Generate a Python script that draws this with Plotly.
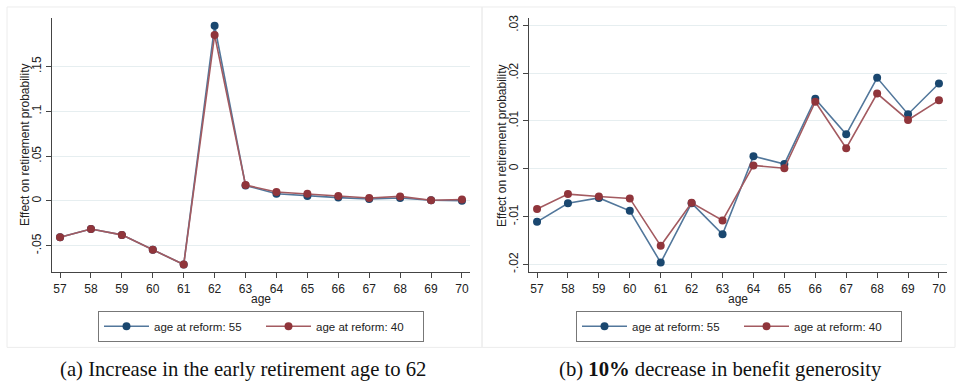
import plotly.graph_objects as go

ages = list(range(57, 71))

# Panel (a): increase in early retirement age to 62
a_reform55 = [-0.0405, -0.0313, -0.0379, -0.0544, -0.0710, 0.1954, 0.0172, 0.0080,
              0.0055, 0.0037, 0.0022, 0.0033, 0.0007, 0.0002]
a_reform40 = [-0.0405, -0.0313, -0.0379, -0.0544, -0.0710, 0.1850, 0.0177, 0.0099,
              0.0080, 0.0055, 0.0033, 0.0050, 0.0007, 0.0015]

# Panel (b): 10% decrease in benefit generosity
b_reform55 = [-0.0111, -0.0072, -0.0061, -0.0088, -0.0196, -0.0072, -0.0137, 0.0026,
              0.0010, 0.0146, 0.0072, 0.0190, 0.0114, 0.0178]
b_reform40 = [-0.0084, -0.0053, -0.0058, -0.0062, -0.0161, -0.0071, -0.0108, 0.0007,
              0.0001, 0.0140, 0.0043, 0.0157, 0.0102, 0.0143]

a_yticks = [-0.05, 0, 0.05, 0.1, 0.15]
a_yticktext = ["-.05", "0", ".05", ".1", ".15"]
b_yticks = [-0.02, -0.01, 0, 0.01, 0.02, 0.03]
b_yticktext = ["-.02", "-.01", "0", ".01", ".02", ".03"]

names = ["age at reform: 55", "age at reform: 40"]
marker_colors = ["#1a476f", "#90353b"]
line_colors = ["#52779b", "#a35a60"]

W, H = 956, 386
def px(x):
    return x / W
def py(y):
    return 1 - y / H

fig = go.Figure()

for i, (ys, nm) in enumerate(zip([a_reform55, a_reform40], names)):
    fig.add_trace(go.Scatter(x=ages, y=ys, name=nm, mode="lines+markers",
                             line=dict(color=line_colors[i], width=1.6),
                             marker=dict(color=marker_colors[i], size=8),
                             xaxis="x", yaxis="y", legend="legend"))
for i, (ys, nm) in enumerate(zip([b_reform55, b_reform40], names)):
    fig.add_trace(go.Scatter(x=ages, y=ys, name=nm, mode="lines+markers",
                             line=dict(color=line_colors[i], width=1.6),
                             marker=dict(color=marker_colors[i], size=8),
                             xaxis="x2", yaxis="y2", legend="legend2"))

font_sans = "Liberation Sans, Arial, sans-serif"
axis_common = dict(showline=True, linecolor="#444", linewidth=1, ticks="outside",
                   ticklen=5, tickcolor="#444", tickfont=dict(family=font_sans, size=12, color="#222"),
                   zeroline=False)

xr = [56.74, 70.26]
leg_common = dict(orientation="h", xanchor="left", yanchor="top",
                  bordercolor="#777", borderwidth=1, bgcolor="white",
                  font=dict(family=font_sans, size=11.5, color="#222"),
                  itemwidth=45, entrywidth=102, tracegroupgap=0)
fig.update_layout(
    width=W, height=H, margin=dict(l=0, r=0, t=0, b=0),
    paper_bgcolor="white", plot_bgcolor="white",
    font=dict(family=font_sans, size=12, color="#222"),
    xaxis=dict(domain=[px(52), px(470)], range=xr, tickvals=ages, showgrid=False,
               anchor="y", **axis_common),
    yaxis=dict(domain=[py(272), py(15)], range=[-0.0795, 0.2042], tickvals=a_yticks,
               ticktext=a_yticktext, tickangle=-90, showgrid=True, gridcolor="#e6eef0",
               anchor="x", **axis_common),
    xaxis2=dict(domain=[px(529), px(947)], range=xr, tickvals=ages, showgrid=False,
                anchor="y2", **axis_common),
    yaxis2=dict(domain=[py(272), py(15)], range=[-0.02161, 0.03153], tickvals=b_yticks,
                ticktext=b_yticktext, tickangle=-90, showgrid=True, gridcolor="#e6eef0",
                anchor="x2", **axis_common),
    legend=dict(x=px(98), y=py(311), **leg_common),
    legend2=dict(x=px(576), y=py(311), **leg_common),
)

# panel frames
for x0, x1 in [(7, 482), (482, 955)]:
    fig.add_shape(type="rect", xref="paper", yref="paper", x0=px(x0), x1=px(x1),
                  y0=py(348), y1=py(4), line=dict(color="#ececec", width=1), layer="below")

ann = dict(xref="paper", yref="paper", showarrow=False, xanchor="center", yanchor="middle")
# axis titles
for cx in [261, 738]:
    fig.add_annotation(text="age", x=px(cx), y=py(299),
                       font=dict(family=font_sans, size=12, color="#222"), **ann)
for cx in [25, 502]:
    fig.add_annotation(text="Effect on retirement probability",
                       x=px(cx), y=py(143.5), textangle=-90,
                       font=dict(family=font_sans, size=12, color="#222"), **ann)

# captions
serif = "Liberation Serif, Times New Roman, serif"
fig.add_annotation(text="(a) Increase in the early retirement age to 62",
                   x=px(243), y=py(370), font=dict(family=serif, size=20.7, color="#111"), **ann)
fig.add_annotation(text="(b) <b>10%</b> decrease in benefit generosity",
                   x=px(720), y=py(370), font=dict(family=serif, size=20.7, color="#111"), **ann)

fig.write_html("out.html")
